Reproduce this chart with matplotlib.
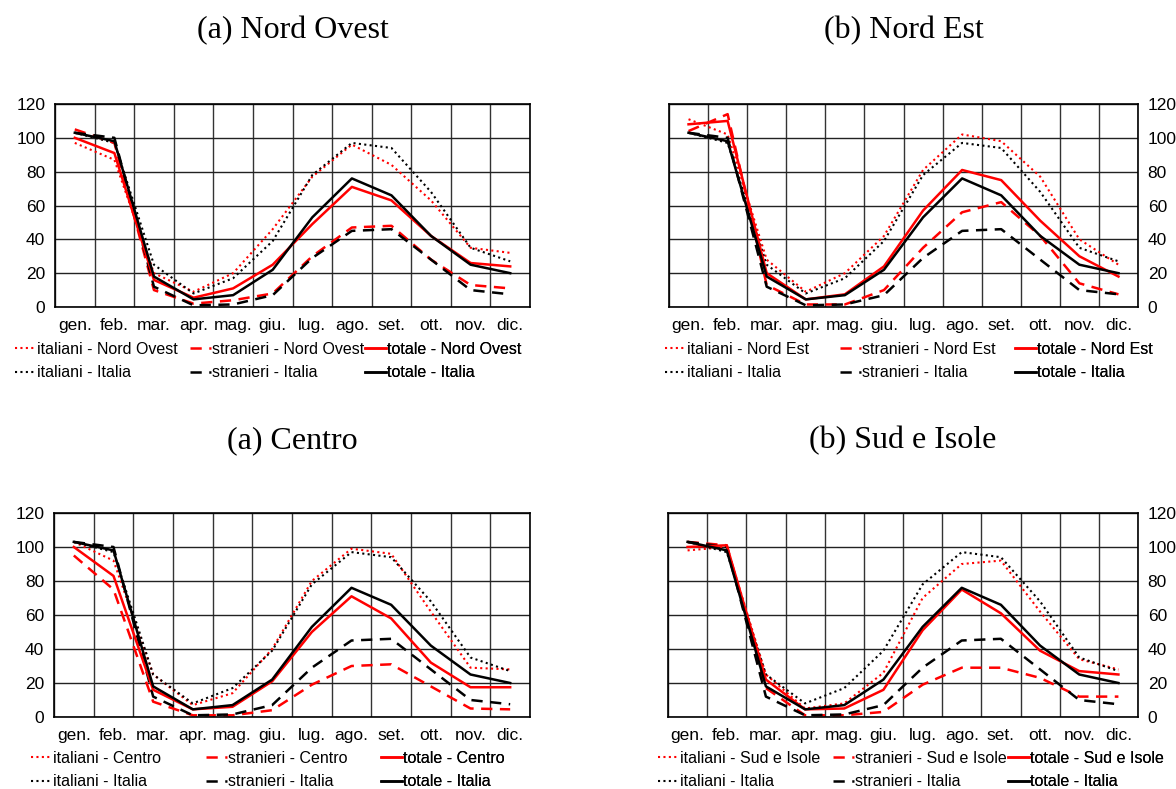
import numpy as np
import matplotlib
matplotlib.use('Agg')
from matplotlib import pyplot as plt

mesi = ['gen.', 'feb.', 'mar.', 'apr.', 'mag.', 'giu.',
        'lug.', 'ago.', 'set.', 'ott.', 'nov.', 'dic.']

# Italia (uguale in tutti i pannelli)
italiani_italia = [103, 97, 25, 8, 17, 39, 78, 97, 94, 68, 35, 27]
stranieri_italia = [103, 100, 12, 1, 1.5, 7, 29, 45, 46, 28, 10, 7.5]
totale_italia = [103, 98, 18, 4.5, 7, 22, 53, 76, 66, 42, 25, 20]

# Nord Ovest
italiani_no = [97, 87, 20, 9, 20, 46, 77, 96, 84, 63, 35, 32]
stranieri_no = [105, 97, 10, 2, 4, 8, 30, 47, 48, 28, 13, 11]
totale_no = [100, 91, 16, 5.5, 11, 25, 49, 71, 63, 42, 26, 24]

# Nord Est
italiani_ne = [111, 102, 28, 9, 20, 42, 81, 102, 98, 77, 40, 25]
stranieri_ne = [104, 114, 13, 1.5, 1.5, 10, 35, 56, 62, 42, 14, 7.5]
totale_ne = [108, 110, 20, 4.5, 7.5, 24, 57, 81, 75, 51, 30, 18]

# Centro
italiani_ce = [103, 92, 25, 7, 14, 40, 80, 99, 96, 62, 29, 28]
stranieri_ce = [95, 75, 9, 1, 1, 4, 19, 30, 31, 18, 5, 4.5]
totale_ce = [100, 83, 16, 4.5, 6, 21, 50, 71, 58, 32, 17.5, 17.5]

# Sud e Isole
italiani_si = [98, 100, 25, 5, 8, 26, 70, 90, 92, 62, 34, 28]
stranieri_si = [103, 101, 17, 1, 1, 3, 19, 29, 29, 23, 12, 12]
totale_si = [100, 101, 22, 4.5, 5, 16, 51, 75, 61, 39, 27, 25]

pannelli = [
    ('(a) Nord Ovest', 'Nord Ovest', italiani_no, stranieri_no, totale_no),
    ('(b) Nord Est', 'Nord Est', italiani_ne, stranieri_ne, totale_ne),
    ('(a) Centro', 'Centro', italiani_ce, stranieri_ce, totale_ce),
    ('(b) Sud e Isole', 'Sud e Isole', italiani_si, stranieri_si, totale_si),
]

W, H = 1176, 789
# assi (left, right, top, bottom) in pixel, y titolo, legenda (x col1, y centro)
box = [
    (55, 530, 104, 307, 31, 15, 361),
    (669, 1138, 104, 307, 31, 665, 361),
    (54, 530, 513, 717, 441, 31, 770),
    (668, 1138, 513, 717, 441, 658, 770),
]
col_w = 175

plt.rcParams['font.family'] = ['Liberation Sans', 'DejaVu Sans']
fig = plt.figure(figsize=(W / 100, H / 100), dpi=100)

dot = (0, (1, 1.6))
dash = (0, (4.5, 3))
x = np.arange(12)

for k, (titolo, nome, it, st, tot) in enumerate(pannelli):
    l, r, t, b, ty, lx, ly = box[k]
    ax = fig.add_axes([l / W, 1 - b / H, (r - l) / W, (b - t) / H])

    h = []
    h += ax.plot(x, it, color='red', lw=1.5, ls=dot, label=f'italiani - {nome}')
    h += ax.plot(x, italiani_italia, color='black', lw=1.5, ls=dot,
                 label='italiani - Italia')
    h += ax.plot(x, st, color='red', lw=1.8, ls=dash,
                 label=f'stranieri - {nome}')
    h += ax.plot(x, stranieri_italia, color='black', lw=1.8, ls=dash,
                 label='stranieri - Italia')
    h += ax.plot(x, tot, color='red', lw=1.8, label=f'totale - {nome}')
    h += ax.plot(x, totale_italia, color='black', lw=1.8,
                 label='totale - Italia')

    ax.set_xlim(-0.5, 11.5)
    ax.set_ylim(0, 120)
    ax.set_yticks(np.arange(0, 121, 20))
    ax.set_xticks(x)
    ax.set_xticklabels(mesi)
    ax.set_xticks(np.arange(-0.5, 12), minor=True)
    ax.grid(which='minor', axis='x', color='#333333', lw=1)
    ax.grid(which='major', axis='y', color='#222222', lw=1)
    ax.set_axisbelow(True)
    ax.tick_params(axis='both', which='both', length=0, labelsize=12.5)
    ax.tick_params(axis='x', pad=8)
    ax.tick_params(axis='y', pad=7)
    for s in ax.spines.values():
        s.set_color('black')
        s.set_linewidth(1.2)
    if k % 2 == 1:
        ax.yaxis.tick_right()

    fig.text((l + r) / 2 / W, 1 - ty / H, titolo, ha='center', va='center',
             fontsize=23, family='Liberation Serif')

    # tre colonne di larghezza uguale, come in Excel
    for c in range(3):
        leg = ax.legend(handles=h[2 * c:2 * c + 2], loc='center left',
                        bbox_to_anchor=((lx + c * col_w) / W, 1 - ly / H),
                        bbox_transform=fig.transFigure, frameon=False,
                        fontsize=11.5, handlelength=1.3, handletextpad=0.1,
                        labelspacing=0.55, borderpad=0, borderaxespad=0)
        ax.add_artist(leg)

fig.savefig('out.png', dpi=100)
